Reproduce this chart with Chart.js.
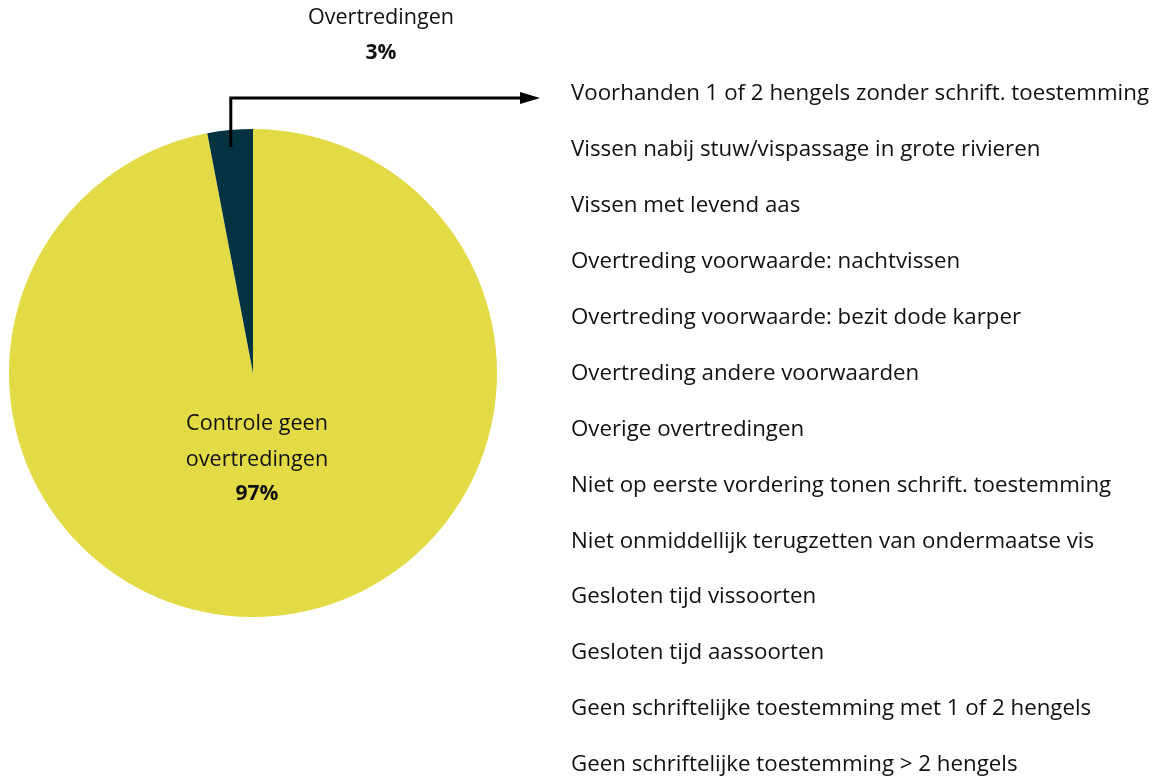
<!DOCTYPE html>
<html>
<head>
<meta charset="utf-8">
<script src="https://cdn.jsdelivr.net/npm/chart.js@4/dist/chart.umd.min.js"></script>
<style>
  html, body { margin: 0; padding: 0; background: #fff; }
  #wrap { width: 1158px; height: 778px; position: relative; }
</style>
</head>
<body>
<div id="wrap"><canvas id="pie"></canvas></div>
<script>
const categories = ["Controle geen overtredingen", "Overtredingen"];
const values = [97, 3];
const colors = ["#e3db45", "#033340"];
const violationTypes = [
    "Voorhanden 1 of 2 hengels zonder schrift. toestemming",
    "Vissen nabij stuw/vispassage in grote rivieren",
    "Vissen met levend aas",
    "Overtreding voorwaarde: nachtvissen",
    "Overtreding voorwaarde: bezit dode karper",
    "Overtreding andere voorwaarden",
    "Overige overtredingen",
    "Niet op eerste vordering tonen schrift. toestemming",
    "Niet onmiddellijk terugzetten van ondermaatse vis",
    "Gesloten tijd vissoorten",
    "Gesloten tijd aassoorten",
    "Geen schriftelijke toestemming met 1 of 2 hengels",
    "Geen schriftelijke toestemming > 2 hengels"
];

const FONT = "'Open Sans', 'Noto Sans', sans-serif";

const labelsPlugin = {
    id: "pieLabels",
    afterDraw(chart) {
        const ctx = chart.ctx;
        const arcs = chart.getDatasetMeta(0).data;
        const big = arcs[0], small = arcs[1];
        const cx = big.x, cy = big.y, r = big.outerRadius;

        ctx.save();
        ctx.fillStyle = "#111";
        ctx.textAlign = "center";
        ctx.textBaseline = "middle";

        // label inside the big slice
        ctx.font = "21.6px " + FONT;
        ctx.fillText("Controle geen", cx + 4, cy + 51);
        ctx.fillText("overtredingen", cx + 4, cy + 87);
        ctx.font = "bold 21px " + FONT;
        ctx.fillText(values[0] + "%", cx + 4, cy + 121);

        // label above the small slice
        ctx.font = "21.6px " + FONT;
        ctx.fillText(categories[1], cx + 128, 18);
        ctx.font = "bold 21px " + FONT;
        ctx.fillText(values[1] + "%", cx + 128, 53);

        // arrow from small slice to the list
        const mid = (small.startAngle + small.endAngle) / 2;
        const sx = cx + Math.cos(mid) * (r - 8);
        const sy = cy - r + 18;
        const ly = 98, ex = 540;
        ctx.strokeStyle = "#000";
        ctx.lineWidth = 3;
        ctx.beginPath();
        ctx.moveTo(sx, sy);
        ctx.lineTo(sx, ly);
        ctx.lineTo(ex - 18, ly);
        ctx.stroke();
        ctx.fillStyle = "#000";
        ctx.beginPath();
        ctx.moveTo(ex, ly);
        ctx.lineTo(ex - 20, ly - 6);
        ctx.lineTo(ex - 20, ly + 6);
        ctx.closePath();
        ctx.fill();

        // list of violation types
        ctx.fillStyle = "#111";
        ctx.textAlign = "left";
        ctx.font = "22.3px " + FONT;
        violationTypes.forEach((t, i) => {
            ctx.fillText(t, 571, 94 + i * 55.9);
        });
        ctx.restore();
    }
};

new Chart(document.getElementById("pie").getContext("2d"), {
    type: "pie",
    data: {
        labels: categories,
        datasets: [{ data: values, backgroundColor: colors, borderWidth: 0 }]
    },
    options: {
        responsive: true,
        maintainAspectRatio: false,
        animation: false,
        layout: { padding: { left: 9, right: 661, top: 129, bottom: 161 } },
        plugins: {
            legend: { display: false },
            tooltip: { enabled: false }
        }
    },
    plugins: [labelsPlugin]
});
</script>
</body>
</html>
